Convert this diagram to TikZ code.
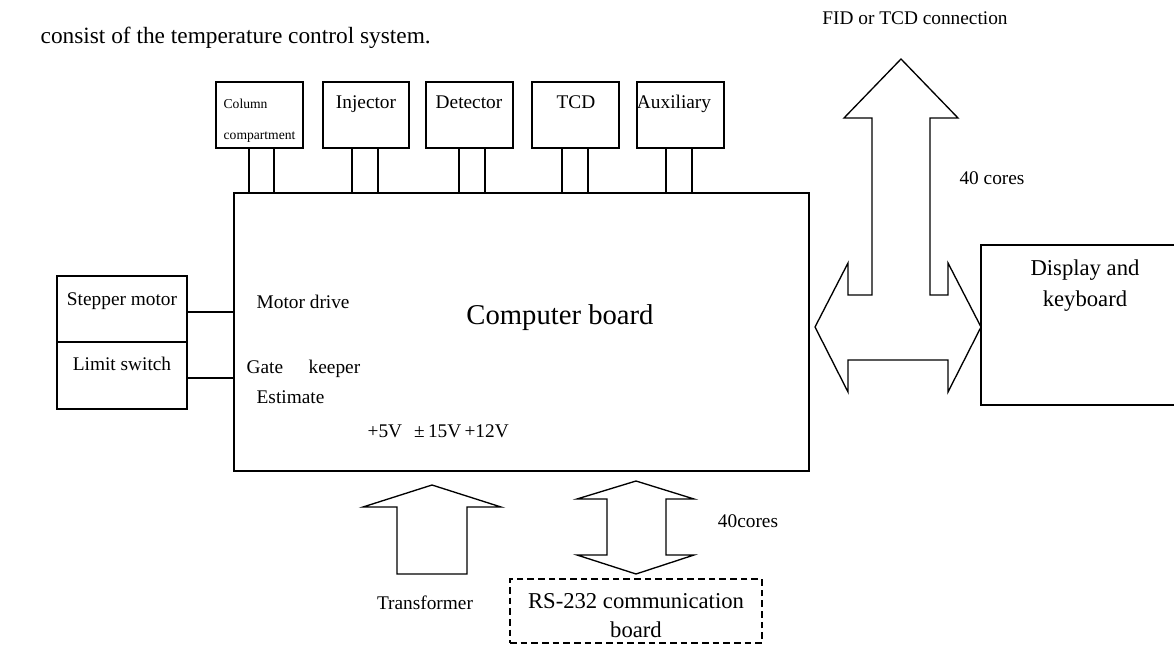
\documentclass[tikz,border=0pt]{standalone}
\usepackage{fontspec}
\setmainfont{Liberation Serif}
\begin{document}
\begin{tikzpicture}[x=0.75pt,y=-0.75pt,line width=1pt,
  box/.style={draw,inner sep=0pt},
  txt/.style={inner sep=0pt,text height=0.85em,text depth=0.05em,font=\fontsize{14.5}{17}\selectfont},
  small/.style={txt,font=\fontsize{10.2}{12}\selectfont},
  big/.style={inner sep=0pt,anchor=base,font=\fontsize{17}{20}\selectfont},
  fat/.style={draw,line join=miter}]
\useasboundingbox (0,0) rectangle (1174,645);
\clip (0,0) rectangle (1174,645);

% heading sentence
\node[anchor=base west,inner sep=0pt,font=\fontsize{17.5}{21}\selectfont] (head) at (40,44) {consist of the temperature control system.};

% top boxes
\node[box,minimum width=65.25pt,minimum height=49.5pt] (col) at (259.5,115) {};
\node[box,minimum width=64.5pt,minimum height=49.5pt] (inj) at (366,115) {};
\node[box,minimum width=65.25pt,minimum height=49.5pt] (det) at (469.5,115) {};
\node[box,minimum width=65.25pt,minimum height=49.5pt] (tcd) at (575.5,115) {};
\node[box,minimum width=65.25pt,minimum height=49.5pt] (aux) at (680.5,115) {};
\node[small,anchor=west] (colt1) at (223,103) {Column};
\node[small,anchor=west] (colt2) at (223,134) {compartment};
\node[txt] (injt) at (366,103) {Injector};
\node[txt] (dett) at (469,103) {Detector};
\node[txt] (tcdt) at (576,103) {TCD};
\node[txt] (auxt) at (674,103) {Auxiliary};

% main board
\node[box,minimum width=431.25pt,minimum height=208.5pt] (main) at (521.5,332) {};
\node[inner sep=0pt,font=\fontsize{21.5}{24}\selectfont] (mainl) at (560,318) {Computer board};
\node[txt,anchor=west] (md) at (256,303) {Motor drive};
\node[txt,anchor=west] (gate) at (246,368) {Gate};
\node[txt,anchor=west] (keep) at (308,368) {keeper};
\node[txt,anchor=west] (est) at (256,398) {Estimate};
\node[txt,anchor=west] (volt) at (367,432) {+5V\hspace{9pt}±\,15V\,+12V};

% top connectors
\foreach \n/\a/\b in {col/-10.5/14.5, inj/-14/12, det/-10.5/15.5, tcd/-13.5/12.5, aux/-14.5/11.5}{
  \path (\n.south) ++(\a,0) coordinate (\n-l);
  \path (\n.south) ++(\b,0) coordinate (\n-r);
  \draw (\n-l) -- (\n-l |- main.north);
  \draw (\n-r) -- (\n-r |- main.north);
}

% left boxes
\node[box,minimum width=97.5pt,minimum height=49.5pt] (step) at (122,309) {};
\node[box,minimum width=97.5pt,minimum height=50.25pt] (lim) at (122,375.5) {};
\node[txt] (stept) at (122,300) {Stepper motor};
\node[txt] (limt) at (122,365) {Limit switch};
\path (step.east) ++(0,3) coordinate (s1);
\path (lim.east) ++(0,2.5) coordinate (s2);
\draw (s1) -- (s1 -| main.west);
\draw (s2) -- (s2 -| main.west);

% display
\node[box,minimum width=156pt,minimum height=120pt] (disp) at (1085,325) {};
\node[big] (dispt1) at (1085,276) {Display and};
\node[big] (dispt2) at (1085,306) {keyboard};

% right combined arrow
\draw[fat] (815,327) -- (848,263) -- (848,295) -- (872,295) -- (872,118) -- (844,118)
  -- (901,59) -- (958,118) -- (930,118) -- (930,295) -- (948,295) -- (948,263)
  -- (981,327) -- (948,392) -- (948,360) -- (848,360) -- (848,392) -- cycle;
\node[txt] (fid) at (915,19) {FID or TCD connection};
\node[txt] (c40a) at (992,179) {40 cores};

% transformer arrow
\draw[fat] (432,485) -- (501,507) -- (467,507) -- (467,574) -- (397,574) -- (397,507) -- (363,507) -- cycle;
\node[txt] (trans) at (425,604) {Transformer};

% RS-232 double arrow
\draw[fat] (636,481) -- (694,499) -- (666,499) -- (666,555) -- (694,555) -- (636,574)
  -- (577,555) -- (607,555) -- (607,499) -- (577,499) -- cycle;
\node[txt] (c40b) at (748,522) {40cores};

\node[box,dash pattern=on 5pt off 3pt,minimum width=189pt,minimum height=48pt] (rs) at (636,611) {};
\node[big] (rst1) at (636,608) {RS-232 communication};
\node[big] (rst2) at (636,637) {board};
\end{tikzpicture}
\end{document}
